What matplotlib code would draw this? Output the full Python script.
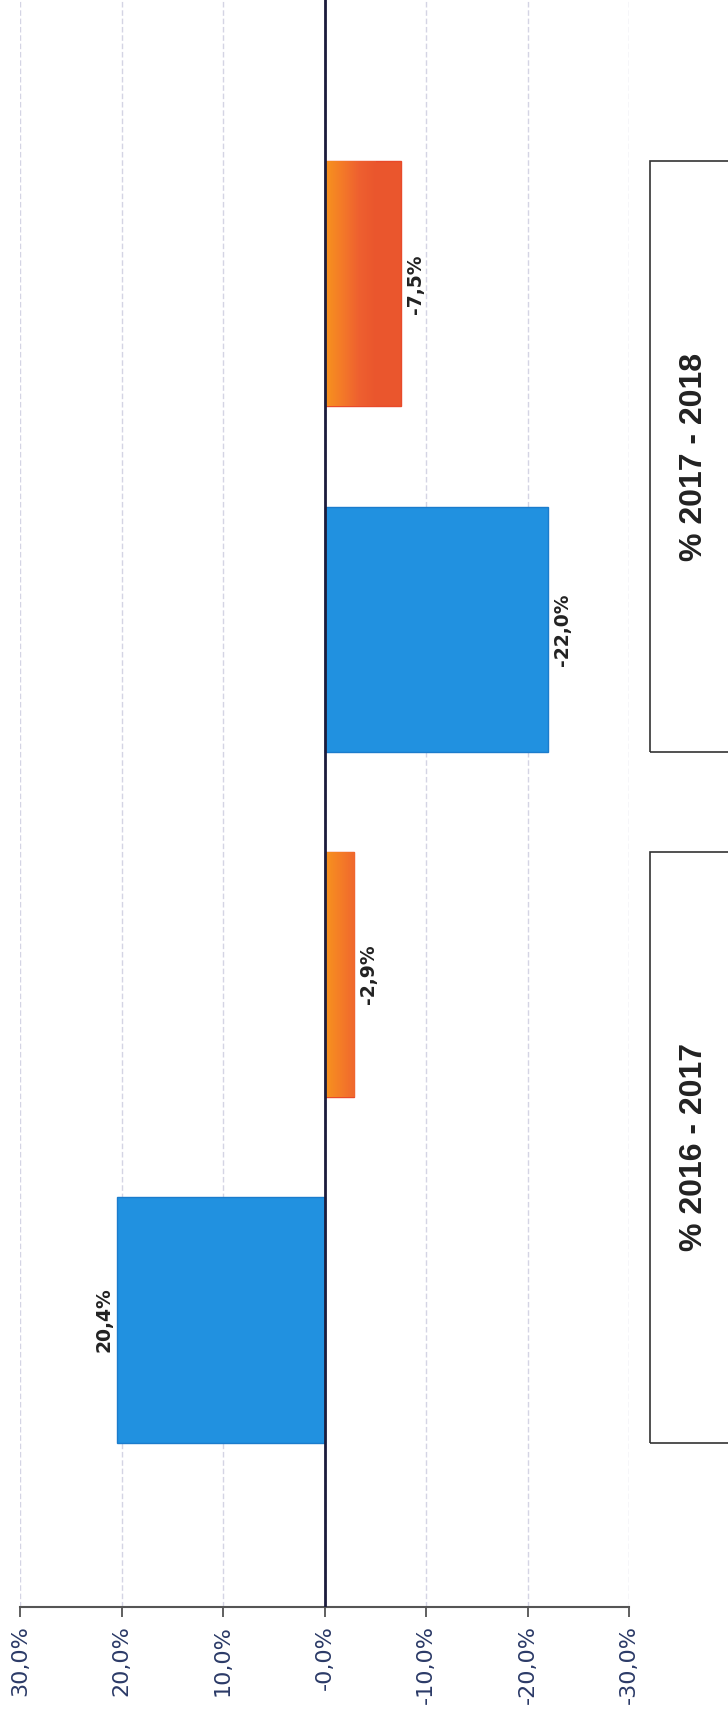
# coding: utf8

import numpy as np
import matplotlib
matplotlib.use("Agg")
import matplotlib.pyplot as plt
from matplotlib.colors import LinearSegmentedColormap
from matplotlib.patches import Rectangle

categories = ["% 2016 - 2017", "% 2017 - 2018"]
blue_vals = [20.4, -22.0]
orange_vals = [-2.9, -7.5]
blue_labels = ["20,4%", "-22,0%"]
orange_labels = ["-2,9%", "-7,5%"]
ticks = [30, 20, 10, 0, -10, -20, -30]
tick_labels = ["30,0%", "20,0%", "10,0%", "-0,0%", "-10,0%", "-20,0%", "-30,0%"]

fig = plt.figure(figsize=(7.28, 17.21), dpi=100)
ax = fig.add_axes([20/728, 114/1721, 609/728, 1607/1721])

h = 0.71
blue_pos = np.arange(len(categories)) * 2.0
orange_pos = blue_pos + 1.0

ax.barh(blue_pos, blue_vals, height=h, color="#2191e0", edgecolor="#1b7ccc",
        linewidth=1, zorder=3)

# orange bars: orange at the base, turning red-orange further out
ocmap = LinearSegmentedColormap.from_list("o", ["#f7931e", "#f47a28", "#ee6030", "#ea562d"])
grad = np.linspace(0, 1, 256).reshape(1, -1)
obars = ax.barh(orange_pos, orange_vals, height=h, color="#ea562d",
                edgecolor="#e84a2a", linewidth=1, zorder=3)
for b in obars:
    im = ax.imshow(grad, cmap=ocmap, aspect="auto", zorder=3.5,
                   extent=[0, -5, b.get_y(), b.get_y() + h], origin="lower")
    im.set_clip_path(b)

for vals, pos, labs in [(blue_vals, blue_pos, blue_labels),
                        (orange_vals, orange_pos, orange_labels)]:
    for v, p, t in zip(vals, pos, labs):
        if v >= 0:
            ax.annotate(t, (v, p), xytext=(-3, 0), textcoords="offset points",
                        rotation=90, ha="right", va="center", fontsize=13.5,
                        fontweight="bold", color="#222222", zorder=5)
        else:
            ax.annotate(t, (v, p), xytext=(4, 0), textcoords="offset points",
                        rotation=90, ha="left", va="center", fontsize=13.5,
                        fontweight="bold", color="#222222", zorder=5)

ax.set_xlim(30, -30)
ax.set_ylim(-0.831, 3.822)
ax.set_xticks(ticks)
ax.set_xticklabels(tick_labels, rotation=90, va="top", ha="center",
                   fontsize=16, color="#2b3a67")
ax.set_yticks([])
ax.tick_params(axis="x", length=7, width=1.2, color="#444444", pad=6)
for s in ["top", "left", "right"]:
    ax.spines[s].set_visible(False)
ax.spines["bottom"].set_color("#555555")
ax.spines["bottom"].set_linewidth(1.5)

ax.grid(axis="x", color="#d4d4e4", linestyle=(0, (4, 2)), linewidth=1, zorder=0)
ax.axvline(0, color="#1c1c3c", linewidth=2, zorder=4)

# category boxes on the right
trans = ax.get_yaxis_transform()
for i, c in enumerate(categories):
    y0 = blue_pos[i] - h / 2
    y1 = orange_pos[i] + h / 2
    ax.add_patch(Rectangle((1.034, y0), 0.2, y1 - y0, transform=trans,
                           fill=False, edgecolor="#333333", linewidth=1.2,
                           clip_on=False))
    ax.text(1.107, (y0 + y1) / 2, c, transform=trans, rotation=90,
            ha="center", va="center", fontsize=23, fontweight="bold",
            family="Liberation Sans", color="#222222")

fig.savefig("out.png", dpi=100)
